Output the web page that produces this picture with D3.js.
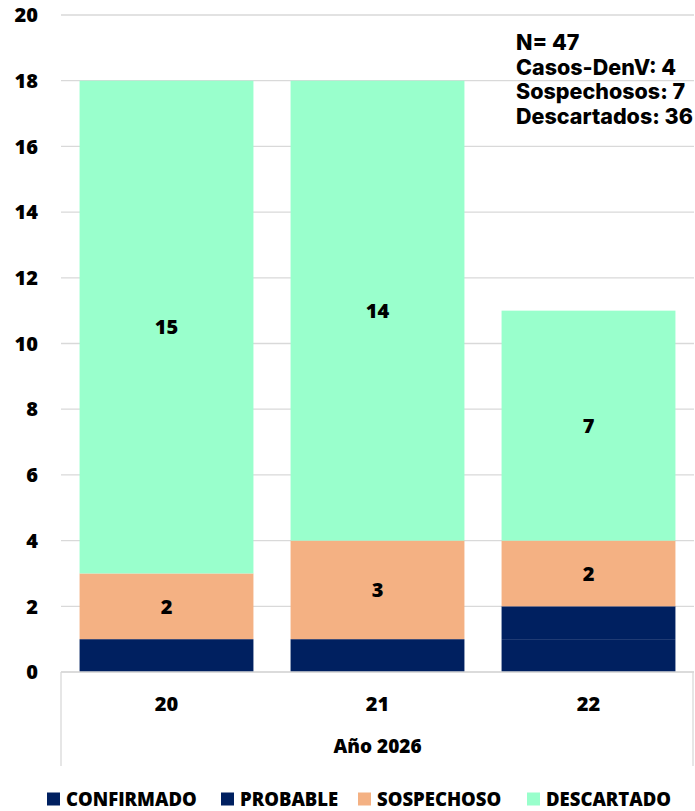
<!DOCTYPE html>
<html>
<head>
<meta charset="utf-8">
<script src="https://cdn.jsdelivr.net/npm/d3@7"></script>
<style>
    html, body { margin: 0; padding: 0; background: #fff; }
    svg text { font-family: "Open Sans", Lato, sans-serif; font-weight: 800; fill: #000; }
    .grid line { stroke: #d9d9d9; stroke-width: 1.3; }
    .note text { font-family: Inter, "Open Sans", sans-serif; font-weight: 800; font-size: 21.5px; }
</style>
</head>
<body>
<svg id="chart"></svg>
<script>
// semanas epidemiologicas
var weeks = ['20', '21', '22'];
var confirmado = [1, 1, 1];
var probable = [0, 0, 1];
var sospechoso = [2, 3, 2];
var descartado = [15, 14, 7];

var seriesNames = ['CONFIRMADO', 'PROBABLE', 'SOSPECHOSO', 'DESCARTADO'];
var seriesColors = ['#002060', '#002060', '#f4b183', '#99ffcc'];
var yTicks = [0, 2, 4, 6, 8, 10, 12, 14, 16, 18, 20];
var yearLabel = 'Año 2026';
var noteLines = ['N= 47', 'Casos-DenV: 4', 'Sospechosos: 7', 'Descartados: 36'];

(function () {
    'use strict';

    var width = 695, height = 811;
    var left = 61, right = 694, top = 15, bottom = 672;

    var svg = d3.select('#chart').attr('width', width).attr('height', height);

    var rows = weeks.map(function (w, i) {
        return {
            week: w,
            CONFIRMADO: confirmado[i],
            PROBABLE: probable[i],
            SOSPECHOSO: sospechoso[i],
            DESCARTADO: descartado[i]
        };
    });

    var x = d3.scaleBand().domain(weeks).range([left, right])
        .paddingInner(0.176).paddingOuter(0.088);
    var y = d3.scaleLinear().domain([0, 20]).range([bottom, top]);
    var color = d3.scaleOrdinal().domain(seriesNames).range(seriesColors);

    // lineas de cuadricula
    svg.append('g').attr('class', 'grid')
        .selectAll('line').data(yTicks).enter().append('line')
        .attr('x1', left).attr('x2', right)
        .attr('y1', function (d) { return y(d); })
        .attr('y2', function (d) { return y(d); });

    // etiquetas del eje y
    svg.append('g').selectAll('text').data(yTicks).enter().append('text')
        .attr('x', 38).attr('y', function (d) { return y(d); })
        .attr('dy', '0.36em').attr('text-anchor', 'end')
        .style('font-size', '20px')
        .text(function (d) { return d; });

    var stack = d3.stack().keys(seriesNames)(rows);

    var layer = svg.append('g').selectAll('g').data(stack).enter().append('g')
        .attr('fill', function (d) { return color(d.key); });

    layer.selectAll('rect').data(function (d) { return d; }).enter().append('rect')
        .attr('x', function (d) { return x(d.data.week); })
        .attr('width', x.bandwidth())
        .attr('y', function (d) { return y(d[1]); })
        .attr('height', function (d) { return y(d[0]) - y(d[1]); });

    // etiquetas de datos (solo sospechoso y descartado)
    stack.filter(function (s) { return s.key === 'SOSPECHOSO' || s.key === 'DESCARTADO'; })
        .forEach(function (s) {
            svg.append('g').selectAll('text').data(s).enter().append('text')
                .attr('x', function (d) { return x(d.data.week) + x.bandwidth() / 2; })
                .attr('y', function (d) { return y((d[0] + d[1]) / 2); })
                .attr('dy', '0.36em').attr('text-anchor', 'middle')
                .style('font-size', '20px')
                .text(function (d) { return d[1] - d[0]; });
        });

    // eje x de dos niveles
    var axisG = svg.append('g').attr('stroke', '#d9d9d9').attr('stroke-width', 1.3);
    axisG.append('line').attr('x1', left).attr('x2', right).attr('y1', bottom).attr('y2', bottom);
    axisG.append('line').attr('x1', left).attr('x2', left).attr('y1', bottom).attr('y2', 766);
    axisG.append('line').attr('x1', right - 1).attr('x2', right - 1).attr('y1', bottom).attr('y2', 766);

    svg.append('g').selectAll('text').data(weeks).enter().append('text')
        .attr('x', function (d) { return x(d) + x.bandwidth() / 2; })
        .attr('y', 704).attr('dy', '0.36em').attr('text-anchor', 'middle')
        .style('font-size', '20px')
        .text(function (d) { return d; });

    svg.append('text')
        .attr('x', (x(weeks[0]) + x(weeks[2]) + x.bandwidth()) / 2)
        .attr('y', 746).attr('dy', '0.36em').attr('text-anchor', 'middle')
        .style('font-size', '19px')
        .text(yearLabel);

    // nota de totales
    svg.append('g').attr('class', 'note').selectAll('text').data(noteLines).enter().append('text')
        .attr('x', 516)
        .attr('y', function (d, i) { return 50 + i * 24.5; })
        .text(function (d) { return d; });

    // leyenda
    var legendX = [47, 221, 358, 527];
    var legend = svg.append('g').selectAll('g').data(seriesNames).enter().append('g')
        .attr('transform', function (d, i) { return 'translate(' + legendX[i] + ',799)'; });
    legend.append('rect')
        .attr('x', 0).attr('y', -6.5).attr('width', 13).attr('height', 13)
        .attr('fill', function (d) { return color(d); });
    legend.append('text')
        .attr('x', 19).attr('dy', '0.36em')
        .style('font-size', '18.5px')
        .text(function (d) { return d; });
})();
</script>
</body>
</html>
